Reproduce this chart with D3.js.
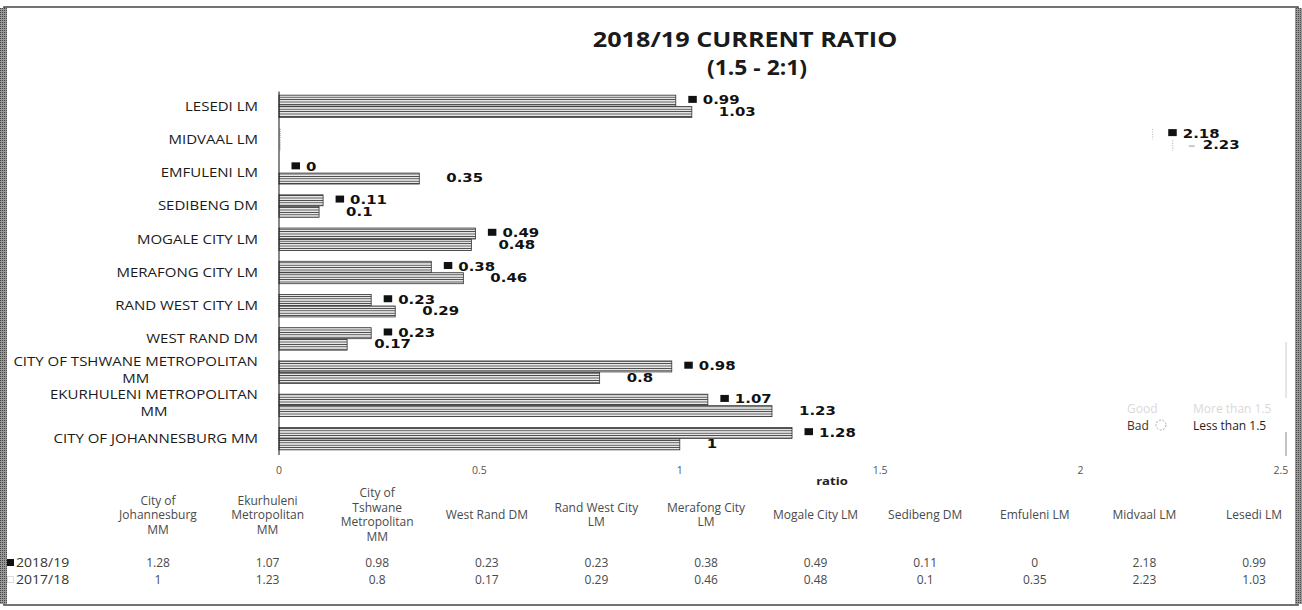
<!DOCTYPE html>
<html>
<head>
<meta charset="utf-8">
<script src="https://cdn.jsdelivr.net/npm/d3@7"></script>
<style>
  body { margin: 0; background: #fff; }
  svg { display: block; font-family: "Open Sans", sans-serif; }
</style>
</head>
<body>
<script>
// chart data
var categories = ["City of Johannesburg MM", "Ekurhuleni Metropolitan MM", "City of Tshwane Metropolitan MM",
  "West Rand DM", "Rand West City LM", "Merafong City LM", "Mogale City LM", "Sedibeng DM",
  "Emfuleni LM", "Midvaal LM", "Lesedi LM"];
var ratio2019 = [1.28, 1.07, 0.98, 0.23, 0.23, 0.38, 0.49, 0.11, 0, 2.18, 0.99];
var ratio2018 = [1, 1.23, 0.8, 0.17, 0.29, 0.46, 0.48, 0.1, 0.35, 2.23, 1.03];
var seriesNames = ["2018/19", "2017/18"];
var axisLabels = ["CITY OF JOHANNESBURG MM", "EKURHULENI METROPOLITAN\nMM", "CITY OF TSHWANE METROPOLITAN\nMM",
  "WEST RAND DM", "RAND WEST CITY LM", "MERAFONG CITY LM", "MOGALE CITY LM", "SEDIBENG DM",
  "EMFULENI LM", "MIDVAAL LM", "LESEDI LM"];
var tableLabels = ["City of\nJohannesburg\nMM", "Ekurhuleni\nMetropolitan\nMM", "City of\nTshwane\nMetropolitan\nMM",
  "West Rand DM", "Rand West City\nLM", "Merafong City\nLM", "Mogale City LM", "Sedibeng DM",
  "Emfuleni LM", "Midvaal LM", "Lesedi LM"];
var xTicks = [0, 0.5, 1, 1.5, 2, 2.5];
var hiddenCategory = "Midvaal LM";

var W = 1302, H = 610;

var svg = d3.select("body").append("svg")
  .attr("width", W)
  .attr("height", H);

var defs = svg.append("defs");
var pat = defs.append("pattern")
  .attr("id", "hatch")
  .attr("patternUnits", "userSpaceOnUse")
  .attr("width", 6).attr("height", 2.4);
pat.append("rect").attr("width", 6).attr("height", 2.4).attr("fill", "#fff");
pat.append("line").attr("x1", 0).attr("x2", 6).attr("y1", 1.2).attr("y2", 1.2)
  .attr("stroke", "#3a3a3a").attr("stroke-width", 1);

var edge = defs.append("pattern")
  .attr("id", "edge")
  .attr("patternUnits", "userSpaceOnUse")
  .attr("width", 2).attr("height", 2);
edge.append("rect").attr("width", 2).attr("height", 2).attr("fill", "#999");
edge.append("rect").attr("width", 1).attr("height", 1).attr("fill", "#444");

// frame
svg.append("rect").attr("x", 4).attr("y", 7).attr("width", W - 8).attr("height", H - 12)
  .attr("fill", "none").attr("stroke", "#444").attr("stroke-width", 1.5);
svg.append("rect").attr("x", 0).attr("y", 8).attr("width", 7).attr("height", H - 14).attr("fill", "url(#edge)");
svg.append("rect").attr("x", W - 7).attr("y", 8).attr("width", 7).attr("height", H - 14).attr("fill", "url(#edge)");

// stretched text helper (the source chart is widened horizontally)
function wideText(parent, tx, ty, sx, anchor) {
  return parent.append("text")
    .attr("transform", "translate(" + tx + "," + ty + ") scale(" + sx + ",1)")
    .attr("text-anchor", anchor || "start");
}

// title
wideText(svg, 745, 47, 1.2, "middle")
  .attr("font-weight", "bold").attr("font-size", 21).attr("fill", "#1a1a1a")
  .text("2018/19 CURRENT RATIO");
wideText(svg, 757, 75, 1.09, "middle")
  .attr("font-weight", "bold").attr("font-size", 21).attr("fill", "#1a1a1a")
  .text("(1.5 - 2:1)");

// scales
var x = d3.scaleLinear().domain([0, 2.5]).range([279, 1281]);
var y = d3.scaleBand()
  .domain(categories.slice().reverse())
  .range([89.5, 455])
  .paddingInner(0.31)
  .paddingOuter(0.155);
var ySub = d3.scaleBand().domain(seriesNames).range([0, y.bandwidth()]);

var rows = categories.map(function(c, i) {
  return { cat: c, label: axisLabels[i], values: [ratio2019[i], ratio2018[i]] };
});

// bars
var g = svg.append("g");
rows.forEach(function(r) {
  r.values.forEach(function(v, s) {
    var top = y(r.cat) + ySub(seriesNames[s]);
    var hidden = r.cat === hiddenCategory;
    g.append("rect")
      .attr("x", x(0))
      .attr("y", top + 0.5)
      .attr("width", x(v) - x(0))
      .attr("height", ySub.bandwidth() - 0.5)
      .attr("fill", hidden ? "#fff" : "url(#hatch)")
      .attr("stroke", hidden ? "none" : "#333")
      .attr("stroke-width", 0.8);
    if (hidden) {
      g.append("line")
        .attr("x1", x(v)).attr("x2", x(v))
        .attr("y1", top + 1).attr("y2", top + ySub.bandwidth())
        .attr("stroke", "#aaa").attr("stroke-dasharray", "1,1.5");
      g.append("line")
        .attr("x1", x(0) + 1).attr("x2", x(0) + 1)
        .attr("y1", top + 1).attr("y2", top + ySub.bandwidth())
        .attr("stroke", "#777").attr("stroke-dasharray", "1,1");
    }
    var off = hidden ? 3 : 0;
    var cy = top + ySub.bandwidth() / 2;
    if (s === 0) {
      g.append("rect")
        .attr("x", x(v) + 12.5 + off).attr("y", cy - 4.5)
        .attr("width", 8.5).attr("height", 7)
        .attr("fill", "#111");
    } else if (hidden) {
      g.append("line")
        .attr("x1", x(v) + 16).attr("x2", x(v) + 22)
        .attr("y1", cy + 1).attr("y2", cy + 1)
        .attr("stroke", "#999");
    }
    wideText(g, x(v) + 27 + off, cy + 4, 1.3)
      .attr("font-family", "DejaVu Sans, sans-serif")
      .attr("font-weight", "bold")
      .attr("font-size", 11.5)
      .attr("fill", "#111")
      .text(v);
  });
});

// y axis line
svg.append("line")
  .attr("x1", x(0)).attr("x2", x(0))
  .attr("y1", y.range()[0] + 2).attr("y2", y.range()[1])
  .attr("stroke", "#111").attr("stroke-width", 1);

// category labels
var labSx = 1.2;
rows.forEach(function(r) {
  var lines = r.label.split("\n");
  var lh = 17;
  var cy = y(r.cat) + y.bandwidth() / 2;
  var t = svg.append("text")
    .attr("text-anchor", "middle")
    .attr("font-size", 12.5)
    .attr("fill", "#1a1a1a");
  var spans = lines.map(function(l, k) {
    return t.append("tspan")
      .attr("x", 0)
      .attr("y", cy + 4.5 - (lines.length - 1) * lh / 2 + k * lh - (lines.length > 1 ? 2 : 0))
      .text(l);
  });
  var maxW = d3.max(spans, function(s) { return s.node().getComputedTextLength(); });
  t.attr("transform", "translate(" + (258 - maxW * labSx / 2) + ",0) scale(" + labSx + ",1)");
});

// x tick labels
svg.append("g").selectAll("text")
  .data(xTicks)
  .enter().append("text")
  .attr("x", function(d) { return x(d); })
  .attr("y", 474)
  .attr("text-anchor", "middle")
  .attr("font-size", 10.5)
  .attr("fill", "#555")
  .text(function(d) { return d; });

wideText(svg, 832, 485, 1.25, "middle")
  .attr("font-weight", "bold")
  .attr("font-size", 10.5)
  .attr("fill", "#222")
  .text("ratio");

// legend
var leg = svg.append("g").attr("font-size", 12);
leg.append("text").attr("x", 1127).attr("y", 413).attr("fill", "#d9d9d9").text("Good");
leg.append("text").attr("x", 1193).attr("y", 413).attr("fill", "#d9d9d9").text("More than 1.5");
leg.append("text").attr("x", 1127).attr("y", 430).attr("fill", "#333").text("Bad");
leg.append("circle").attr("cx", 1161).attr("cy", 425).attr("r", 5)
  .attr("fill", "none").attr("stroke", "#aaa").attr("stroke-dasharray", "2,1.5");
leg.append("text").attr("x", 1193).attr("y", 430).attr("fill", "#222").text("Less than 1.5");
leg.append("line").attr("x1", 1286).attr("x2", 1286).attr("y1", 342).attr("y2", 398)
  .attr("stroke", "#ccc");
leg.append("line").attr("x1", 1286).attr("x2", 1286).attr("y1", 432).attr("y2", 456)
  .attr("stroke", "#888");

// data table
var col = d3.scalePoint().domain(categories).range([158, 1254]);
var table = svg.append("g").attr("font-size", 12).attr("fill", "#4a4a4a").attr("text-anchor", "middle");
categories.forEach(function(c, i) {
  var lines = tableLabels[i].split("\n");
  var lh = 14.5;
  var t = table.append("text");
  lines.forEach(function(l, k) {
    t.append("tspan")
      .attr("x", col(c))
      .attr("y", 519 - (lines.length - 1) * lh / 2 + k * lh)
      .text(l);
  });
  table.append("text").attr("x", col(c)).attr("y", 567).text(ratio2019[i]);
  table.append("text").attr("x", col(c)).attr("y", 584).text(ratio2018[i]);
});

var rowLab = svg.append("g").attr("font-size", 12.5).attr("fill", "#333");
rowLab.append("rect").attr("x", 7).attr("y", 559).attr("width", 7).attr("height", 7).attr("fill", "#111");
wideText(rowLab, 16, 567, 1.12).text(seriesNames[0]);
rowLab.append("rect").attr("x", 7.5).attr("y", 576.5).attr("width", 6).attr("height", 6)
  .attr("fill", "none").attr("stroke", "#bbb").attr("stroke-dasharray", "1,1");
wideText(rowLab, 16, 584, 1.12).text(seriesNames[1]);
</script>
</body>
</html>
